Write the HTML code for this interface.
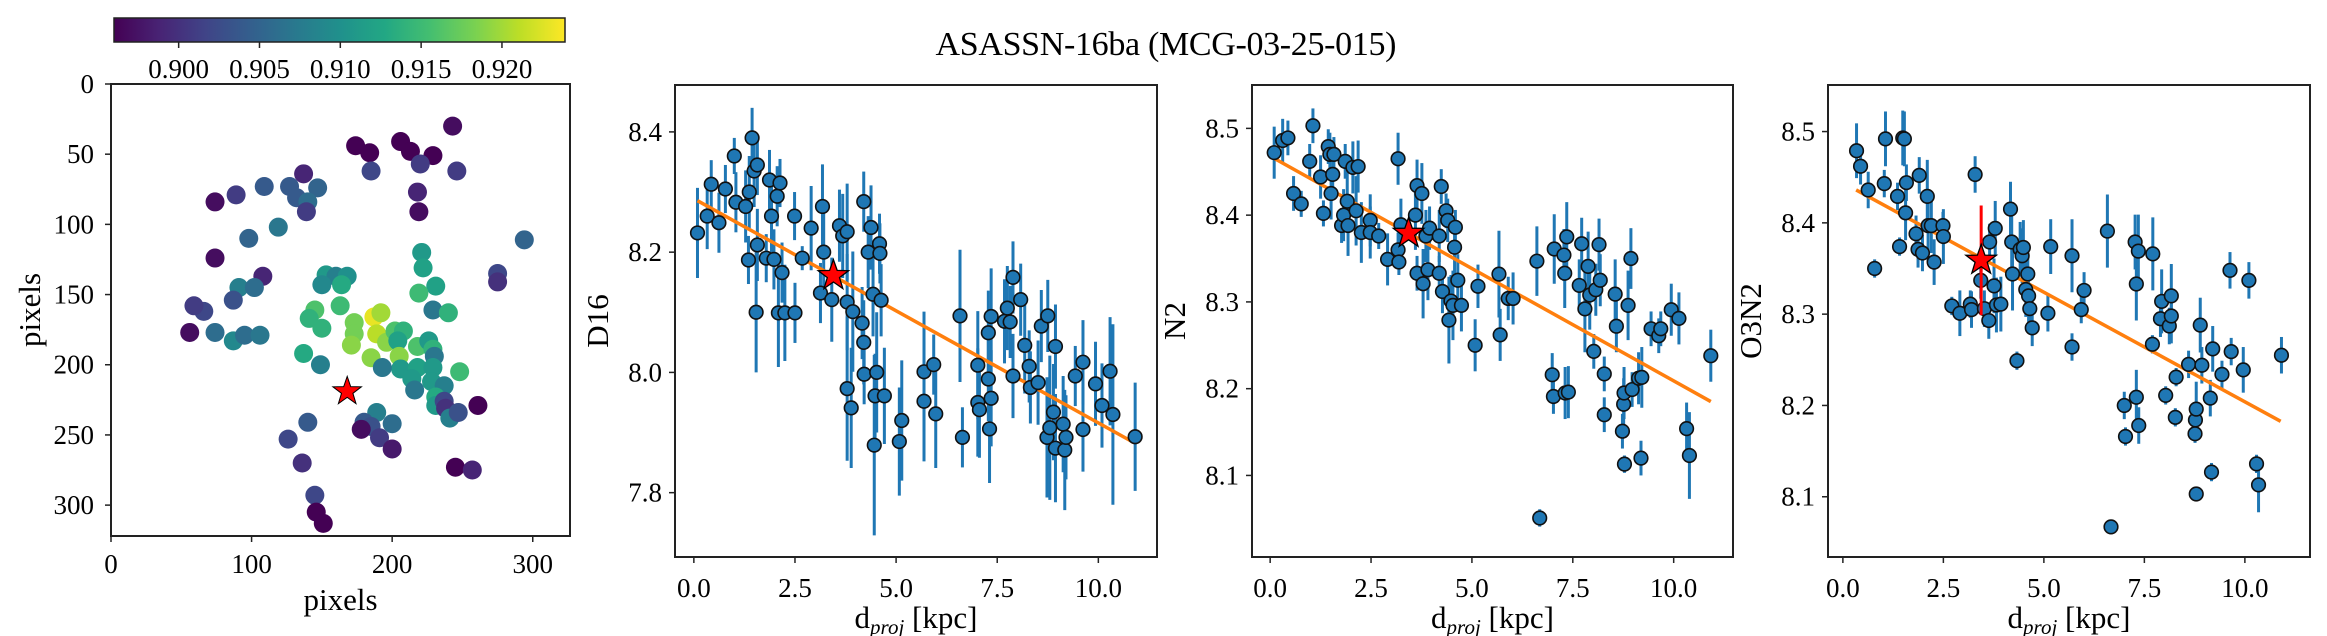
<!DOCTYPE html>
<html><head><meta charset="utf-8"><style>
html,body{margin:0;padding:0;background:#fff;}
svg{display:block;font-family:"Liberation Serif",serif;}
</style></head><body>
<svg id="fig" width="2327" height="636" viewBox="0 0 2327 636" xmlns="http://www.w3.org/2000/svg">
<text x="1166" y="55" font-size="34" text-anchor="middle" textLength="461">ASASSN-16ba (MCG-03-25-015)</text>
</svg>
<script>
// ---------- map data ----------
const mapX=[243,174,184,206,213,229,220,185,246,137,218,219,109,127,147,89,132,140,139,74,119,98,294,74,108,275,275,221,222,231,219,229,240,153,160,168,164,150,91,102,87,66,59,56,74,87,95,106,145,141,163,150,173,187,192,173,189,196,202,208,204,171,185,205,137,218,226,229,230,206,193,218,229,248,214,228,216,237,231,231,237,238,241,247,261,189,149,140,180,185,200,178,191,200,126,136,245,257,145,146,151];
const mapY=[30,44,49,41,48,51,57,62,62,64,77,91,73,73,74,79,81,84,91,84,102,110,111,124,137,135,141,120,131,144,149,161,163,136,137,137,143,143,145,145,154,162,158,177,177,183,179,179,161,167,158,174,170,166,163,178,178,184,176,176,183,186,195,194,192,187,183,189,194,203,202,202,202,205,210,212,218,215,223,229,226,231,238,234,229,234,200,241,241,244,242,246,252,260,253,270,273,275,293,305,313];
const mapV=[0.897,0.896,0.896,0.896,0.896,0.896,0.901,0.902,0.901,0.899,0.899,0.897,0.904,0.904,0.905,0.901,0.904,0.906,0.901,0.897,0.907,0.905,0.905,0.897,0.899,0.902,0.900,0.911,0.912,0.912,0.915,0.907,0.914,0.911,0.908,0.910,0.913,0.909,0.908,0.906,0.903,0.902,0.901,0.897,0.906,0.909,0.906,0.907,0.916,0.914,0.915,0.914,0.918,0.923,0.920,0.918,0.921,0.919,0.916,0.914,0.912,0.919,0.919,0.919,0.913,0.916,0.911,0.914,0.907,0.911,0.907,0.912,0.911,0.915,0.911,0.911,0.907,0.908,0.913,0.911,0.902,0.900,0.908,0.903,0.896,0.908,0.908,0.904,0.904,0.903,0.906,0.897,0.901,0.898,0.902,0.900,0.896,0.899,0.902,0.896,0.896];
const mapStar=[168,219];
const mapTicksX=[0,100,200,300];
const mapTicksY=[0,50,100,150,200,250,300];
const cbTicks=[0.900,0.905,0.910,0.915,0.920];
const cbTickLabels=["0.900","0.905","0.910","0.915","0.920"];
// ---------- D16 ----------
const d16X=[0.09,0.33,0.43,0.62,0.78,1.0,1.04,1.28,1.35,1.37,1.44,1.49,1.57,1.57,1.54,1.79,1.87,1.92,1.98,2.06,2.09,2.13,2.18,2.25,2.49,2.5,2.68,2.9,3.13,3.18,3.21,3.41,3.6,3.68,3.79,3.79,3.79,3.89,3.93,4.16,4.2,4.2,4.21,4.31,4.38,4.43,4.48,4.46,4.52,4.59,4.6,4.63,4.71,5.08,5.14,5.69,5.69,5.93,5.98,6.58,6.64,7.02,7.02,7.06,7.28,7.28,7.31,7.35,7.35,7.68,7.75,7.82,7.89,7.89,8.08,8.18,8.29,8.32,8.51,8.59,8.75,8.73,8.8,8.89,8.94,8.94,9.13,9.17,9.2,9.43,9.62,9.62,9.93,10.09,10.29,10.36,10.91];
const d16Y=[8.232,8.26,8.313,8.249,8.305,8.36,8.283,8.276,8.187,8.3,8.39,8.335,8.345,8.212,8.1,8.19,8.32,8.26,8.188,8.293,8.099,8.315,8.166,8.099,8.26,8.099,8.19,8.24,8.132,8.276,8.2,8.121,8.244,8.227,8.234,8.117,7.973,7.941,8.101,8.082,8.284,8.05,7.997,8.2,8.241,8.13,7.961,7.879,8.0,8.214,8.198,8.12,7.961,7.885,7.92,7.952,8.001,8.013,7.931,8.094,7.892,8.012,7.95,7.938,8.066,7.989,7.906,8.093,7.957,8.085,8.107,8.084,8.158,7.994,8.121,8.045,8.01,7.975,7.983,8.077,8.094,7.892,7.908,7.934,8.043,7.874,7.914,7.871,7.892,7.994,7.905,8.017,7.981,7.945,8.002,7.93,7.893];
const d16E=[0.075,0.055,0.04,0.05,0.04,0.03,0.05,0.06,0.04,0.06,0.05,0.06,0.05,0.06,0.1,0.04,0.05,0.06,0.05,0.05,0.09,0.04,0.05,0.08,0.04,0.05,0.02,0.07,0.05,0.07,0.08,0.07,0.06,0.07,0.08,0.08,0.12,0.1,0.1,0.06,0.05,0.07,0.05,0.06,0.07,0.07,0.07,0.15,0.1,0.05,0.05,0.06,0.08,0.09,0.1,0.1,0.1,0.05,0.09,0.11,0.05,0.09,0.09,0.08,0.07,0.07,0.09,0.08,0.08,0.07,0.07,0.06,0.06,0.07,0.06,0.08,0.06,0.06,0.07,0.06,0.06,0.1,0.12,0.08,0.07,0.09,0.08,0.1,0.07,0.05,0.07,0.07,0.07,0.07,0.09,0.15,0.09];
const d16Star=[3.45,8.161,0.0];
const d16Fit=[-0.0373,8.289,0.09,10.88];
const d16TicksY=[7.8,8.0,8.2,8.4];
// ---------- N2 ----------
const n2X=[0.1,0.31,0.44,0.58,0.77,0.98,1.06,1.25,1.32,1.44,1.48,1.55,1.51,1.58,1.77,1.82,1.86,1.91,1.93,2.05,2.13,2.18,2.26,2.48,2.48,2.69,2.91,3.17,3.17,3.19,3.24,3.6,3.64,3.64,3.76,3.79,3.86,3.91,3.95,4.19,4.19,4.24,4.27,4.36,4.4,4.43,4.48,4.53,4.57,4.59,4.65,4.74,5.08,5.15,5.67,5.7,5.9,6.02,6.61,6.68,6.99,7.02,7.04,7.28,7.3,7.31,7.35,7.39,7.66,7.72,7.8,7.88,7.92,8.02,8.07,8.15,8.18,8.28,8.28,8.55,8.58,8.73,8.76,8.77,8.78,8.87,8.94,8.97,9.13,9.19,9.21,9.44,9.63,9.68,9.94,10.13,10.32,10.39,10.92];
const n2Y=[8.472,8.486,8.489,8.425,8.413,8.462,8.503,8.444,8.402,8.479,8.47,8.447,8.425,8.47,8.388,8.4,8.462,8.416,8.388,8.455,8.405,8.456,8.38,8.394,8.38,8.376,8.349,8.465,8.36,8.346,8.389,8.4,8.434,8.333,8.425,8.321,8.376,8.337,8.385,8.333,8.376,8.433,8.312,8.405,8.394,8.279,8.301,8.296,8.363,8.386,8.325,8.296,8.25,8.318,8.332,8.262,8.304,8.304,8.347,8.051,8.216,8.191,8.361,8.354,8.333,8.195,8.375,8.196,8.319,8.367,8.292,8.341,8.308,8.243,8.314,8.366,8.325,8.217,8.17,8.309,8.272,8.151,8.182,8.195,8.113,8.296,8.35,8.199,8.212,8.12,8.213,8.269,8.261,8.269,8.291,8.281,8.154,8.123,8.238];
const n2E=[0.03,0.025,0.02,0.02,0.015,0.02,0.02,0.025,0.015,0.02,0.025,0.02,0.03,0.02,0.02,0.03,0.02,0.035,0.035,0.03,0.04,0.03,0.035,0.03,0.03,0.015,0.03,0.03,0.02,0.015,0.03,0.04,0.03,0.02,0.035,0.04,0.03,0.035,0.025,0.02,0.03,0.02,0.025,0.02,0.025,0.05,0.03,0.04,0.03,0.02,0.03,0.03,0.03,0.025,0.05,0.03,0.025,0.03,0.04,0.01,0.025,0.02,0.04,0.03,0.04,0.03,0.04,0.03,0.03,0.03,0.05,0.04,0.04,0.02,0.03,0.03,0.03,0.02,0.02,0.04,0.03,0.02,0.03,0.03,0.01,0.04,0.035,0.02,0.03,0.02,0.035,0.02,0.02,0.02,0.03,0.03,0.03,0.05,0.03];
const n2Star=[3.43,8.379,0.0];
const n2Fit=[-0.0259,8.468,0.05,10.92];
const n2TicksY=[8.1,8.2,8.3,8.4,8.5];
// ---------- O3N2 ----------
const o3X=[0.34,0.44,0.63,0.79,1.03,1.06,1.36,1.41,1.49,1.53,1.58,1.56,1.82,1.87,1.9,1.98,2.1,2.12,2.2,2.27,2.49,2.5,2.71,2.91,3.17,3.2,3.29,3.43,3.52,3.63,3.65,3.76,3.79,3.82,3.93,4.17,4.2,4.22,4.33,4.41,4.46,4.49,4.55,4.6,4.62,4.65,4.71,5.1,5.17,5.7,5.7,5.93,6.0,6.58,6.67,7.0,7.03,7.27,7.3,7.3,7.35,7.36,7.7,7.71,7.9,7.93,8.03,8.12,8.17,8.17,8.29,8.27,8.6,8.76,8.77,8.79,8.79,8.89,8.93,9.14,9.2,9.17,9.43,9.63,9.66,9.96,10.1,10.29,10.34,10.91];
const o3Y=[8.479,8.462,8.436,8.35,8.443,8.492,8.429,8.374,8.493,8.492,8.444,8.411,8.388,8.371,8.452,8.367,8.429,8.397,8.397,8.357,8.397,8.385,8.309,8.301,8.311,8.305,8.453,8.337,8.306,8.293,8.379,8.331,8.394,8.31,8.311,8.415,8.379,8.344,8.249,8.371,8.364,8.373,8.327,8.344,8.32,8.306,8.285,8.301,8.374,8.364,8.264,8.305,8.326,8.391,8.067,8.2,8.166,8.379,8.333,8.209,8.369,8.178,8.267,8.366,8.295,8.314,8.211,8.287,8.32,8.298,8.231,8.187,8.245,8.169,8.184,8.196,8.103,8.288,8.244,8.208,8.262,8.127,8.234,8.348,8.259,8.239,8.337,8.136,8.113,8.255];
const o3E=[0.03,0.02,0.02,0.01,0.015,0.03,0.015,0.01,0.03,0.03,0.02,0.03,0.02,0.02,0.02,0.02,0.04,0.04,0.03,0.025,0.015,0.03,0.01,0.025,0.015,0.02,0.02,0.02,0.02,0.02,0.02,0.03,0.03,0.03,0.03,0.03,0.04,0.04,0.01,0.03,0.03,0.03,0.03,0.03,0.03,0.02,0.02,0.02,0.03,0.04,0.015,0.015,0.02,0.04,0.007,0.015,0.01,0.03,0.04,0.03,0.04,0.02,0.01,0.04,0.02,0.035,0.01,0.02,0.035,0.03,0.01,0.01,0.015,0.01,0.02,0.03,0.005,0.03,0.02,0.02,0.025,0.01,0.015,0.02,0.015,0.025,0.02,0.01,0.03,0.02];
const o3Star=[3.44,8.359,0.06];
const o3Fit=[-0.024,8.444,0.33,10.89];
const o3TicksY=[8.1,8.2,8.3,8.4,8.5];
const kpcTicks=[0,2.5,5,7.5,10];
const kpcTickLabels=["0.0","2.5","5.0","7.5","10.0"];

const NS="http://www.w3.org/2000/svg";
const svg=document.getElementById('fig');
function mk(tag,attrs,parent){const e=document.createElementNS(NS,tag);for(const k in attrs)e.setAttribute(k,attrs[k]);(parent||svg).appendChild(e);return e;}
const VIR=[[68,1,84],[72,35,116],[64,67,135],[52,94,141],[41,120,142],[32,144,140],[34,167,132],[68,190,112],[121,209,81],[189,222,38],[253,231,37]];
function viridis(t){t=Math.max(0,Math.min(1,t));const p=t*10,i=Math.min(9,Math.floor(p)),f=p-i;const a=VIR[i],b=VIR[i+1];return 'rgb('+a.map((v,k)=>Math.round(v+(b[k]-v)*f)).join(',')+')';}
function starPts(cx,cy,R){const r=R*0.4;let s=[];for(let i=0;i<10;i++){const ang=-Math.PI/2+i*Math.PI/5;const rr=i%2?r:R;s.push((cx+rr*Math.cos(ang)).toFixed(1)+','+(cy+rr*Math.sin(ang)).toFixed(1));}return s.join(' ');}

// ---------- Map panel ----------
(function(){
  const L=111,R=570,T=84,B=536,xmin=0,xmax=326.5,ymin=0,ymax=322;
  const sx=v=>L+(v-xmin)/(xmax-xmin)*(R-L), sy=v=>T+(v-ymin)/(ymax-ymin)*(B-T);
  const g=mk('g',{});
  
  
  const cmin=0.8960,cmax=0.9239;
  for(let i=0;i<mapX.length;i++){
    const c=mk('circle',{cx:sx(mapX[i]),cy:sy(mapY[i]),r:9.5,fill:viridis((mapV[i]-cmin)/(cmax-cmin))},g);
    
    
  }
  const st=mk('polygon',{points:starPts(sx(mapStar[0]),sy(mapStar[1]),15),fill:'#ff0000',stroke:'#000','stroke-width':1},g);
  
  
  const fr=mk('rect',{x:L,y:T,width:R-L,height:B-T,fill:'none',stroke:'#222','stroke-width':2},g);
  
  
  mapTicksX.forEach(v=>{mk('line',{x1:sx(v),x2:sx(v),y1:B,y2:B+6,stroke:'#222','stroke-width':1.5},g);
    const t=mk('text',{x:sx(v),y:573,'font-size':27,'text-anchor':'middle'},g);t.textContent=v;
    
    });
  mapTicksY.forEach(v=>{mk('line',{x1:L-6,x2:L,y1:sy(v),y2:sy(v),stroke:'#222','stroke-width':1.5},g);
    const t=mk('text',{x:94,y:sy(v)+9,'font-size':27,'text-anchor':'end'},g);t.textContent=v;
    
    });
  const xl=mk('text',{x:(L+R)/2,y:610,'font-size':31,'text-anchor':'middle'},g);xl.textContent='pixels';
  
  
  const yl=mk('text',{x:0,y:0,'font-size':31,'text-anchor':'middle',transform:'translate(40,'+((T+B)/2)+') rotate(-90)'},g);yl.textContent='pixels';
  
  
  // colorbar
  const cL=114,cR=565,cT=18,cB=42;
  const defs=mk('defs',{});
  const lg=mk('linearGradient',{id:'vir',x1:0,x2:1,y1:0,y2:0},defs);
  for(let i=0;i<=20;i++)mk('stop',{offset:(i/20),'stop-color':viridis(i/20)},lg);
  const cb=mk('rect',{x:cL,y:cT,width:cR-cL,height:cB-cT,fill:'url(#vir)',stroke:'#222','stroke-width':1.5},g);
  
  
  const cx=v=>cL+(v-cmin)/(cmax-cmin)*(cR-cL);
  cbTicks.forEach((v,i)=>{mk('line',{x1:cx(v),x2:cx(v),y1:cB,y2:cB+6,stroke:'#222','stroke-width':1.5},g);
    const t=mk('text',{x:cx(v),y:78,'font-size':27,'text-anchor':'middle'},g);t.textContent=cbTickLabels[i];
    
    });
})();

// ---------- scatter panels ----------
function panel(name,L,R,xmin,xmax,ymin,ymax,xs,ys,es,star,fit,yt,ylab){
  const T=85,B=557;
  const sx=v=>L+(v-xmin)/(xmax-xmin)*(R-L), sy=v=>B-(v-ymin)/(ymax-ymin)*(B-T);
  const g=mk('g',{});
  
  
  const clip=mk('clipPath',{id:'clip-'+name},g);mk('rect',{x:L,y:T,width:R-L,height:B-T},clip);
  const pg=mk('g',{'clip-path':'url(#clip-'+name+')'},g);
  for(let i=0;i<xs.length;i++){
    const l=mk('line',{x1:sx(xs[i]),x2:sx(xs[i]),y1:sy(ys[i]-es[i]),y2:sy(ys[i]+es[i]),stroke:'#1f77b4','stroke-width':3},pg);
    
    
  }
  const fl=mk('line',{x1:sx(fit[2]),y1:sy(fit[1]+fit[0]*fit[2]),x2:sx(fit[3]),y2:sy(fit[1]+fit[0]*fit[3]),stroke:'#ff7f0e','stroke-width':3.5},pg);
  
  
  for(let i=0;i<xs.length;i++){
    const c=mk('circle',{cx:sx(xs[i]),cy:sy(ys[i]),r:6.8,fill:'#1f77b4',stroke:'#111','stroke-width':1.6},pg);
    
    
  }
  if(star[2]>0){const se=mk('line',{x1:sx(star[0]),x2:sx(star[0]),y1:sy(star[1]-star[2]),y2:sy(star[1]+star[2]),stroke:'#ff0000','stroke-width':3},pg);
    
    }
  const st=mk('polygon',{points:starPts(sx(star[0]),sy(star[1]),16),fill:'#ff0000',stroke:'#000','stroke-width':1.3},pg);
  
  
  const fr=mk('rect',{x:L,y:T,width:R-L,height:B-T,fill:'none',stroke:'#222','stroke-width':2},g);
  
  
  kpcTicks.forEach((v,i)=>{mk('line',{x1:sx(v),x2:sx(v),y1:B,y2:B+6,stroke:'#222','stroke-width':1.5},g);
    const t=mk('text',{x:sx(v),y:597,'font-size':27,'text-anchor':'middle'},g);t.textContent=kpcTickLabels[i];
    
    });
  yt.forEach(v=>{mk('line',{x1:L-6,x2:L,y1:sy(v),y2:sy(v),stroke:'#222','stroke-width':1.5},g);
    const t=mk('text',{x:L-13,y:sy(v)+9,'font-size':27,'text-anchor':'end'},g);t.textContent=v.toFixed(1);
    
    });
  const xl=mk('text',{x:(L+R)/2,y:628,'font-size':31,'text-anchor':'middle'},g);
  xl.innerHTML='d<tspan font-style="italic" font-size="21" dy="6">proj</tspan><tspan dy="-6"> [kpc]</tspan>';
  
  
  const yl=mk('text',{x:0,y:0,'font-size':31,'text-anchor':'middle',transform:'translate('+(L-67)+','+((T+B)/2)+') rotate(-90)'},g);yl.textContent=ylab;
  
  
}
panel('d16',675,1157,-0.466,11.45,7.693,8.478,d16X,d16Y,d16E,d16Star,d16Fit,d16TicksY,'D16');
panel('n2',1252,1733,-0.45,11.47,8.006,8.55,n2X,n2Y,n2E,n2Star,n2Fit,n2TicksY,'N2');
panel('o3n2',1828,2310,-0.37,11.62,8.034,8.551,o3X,o3Y,o3E,o3Star,o3Fit,o3TicksY,'O3N2');
</script>
</body></html>
